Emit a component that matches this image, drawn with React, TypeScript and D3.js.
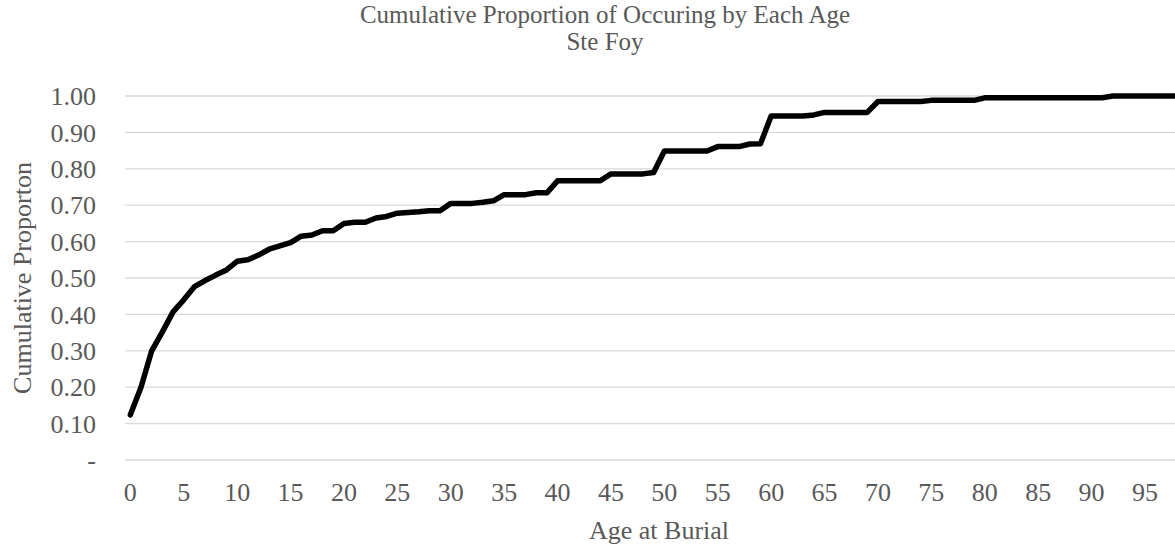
import React from "react";
import * as d3 from "d3";

const ages: number[] = d3.range(0, 100);
const cumulative: number[] = [
  0.124, 0.2, 0.3, 0.352, 0.407, 0.44, 0.476, 0.493, 0.508, 0.522,
  0.546, 0.55, 0.563, 0.579, 0.588, 0.597, 0.615, 0.618, 0.63, 0.63,
  0.65, 0.653, 0.653, 0.665, 0.669, 0.678, 0.68, 0.682, 0.685, 0.685,
  0.705, 0.705, 0.705, 0.708, 0.712, 0.729, 0.729, 0.729, 0.734, 0.734,
  0.767, 0.767, 0.767, 0.767, 0.767, 0.786, 0.786, 0.786, 0.786, 0.79,
  0.849, 0.849, 0.849, 0.849, 0.849, 0.861, 0.861, 0.861, 0.868, 0.869,
  0.945, 0.945, 0.945, 0.945, 0.948, 0.955, 0.955, 0.955, 0.955, 0.955,
  0.985, 0.985, 0.985, 0.985, 0.985, 0.988, 0.988, 0.988, 0.988, 0.988,
  0.995, 0.995, 0.995, 0.995, 0.995, 0.995, 0.995, 0.995, 0.995, 0.995,
  0.995, 0.995, 1.0, 1.0, 1.0, 1.0, 1.0, 1.0, 1.0, 1.0,
];
const yTicks: number[] = [0, 0.1, 0.2, 0.3, 0.4, 0.5, 0.6, 0.7, 0.8, 0.9, 1.0];
const xTickLabels: number[] = [0, 5, 10, 15, 20, 25, 30, 35, 40, 45, 50, 55, 60, 65, 70, 75, 80, 85, 90, 95];
const titleLines: string[] = ["Cumulative Proportion of Occuring by Each Age", "Ste Foy"];
const xTitle = "Age at Burial";
const yTitle = "Cumulative Proporton";

const W = 1175;
const H = 544;
const left = 125;
const right = 1193;
const top = 96;
const bottom = 460;
const titleCenter = 605;
const textColor = "#595959";
const font = "'Liberation Serif', 'Times New Roman', serif";
const fs = 26;

export default function App() {
  const x = d3.scaleBand<number>().domain(ages).range([left, right]);
  const y = d3.scaleLinear().domain([0, 1]).range([bottom, top]);
  const cx = (a: number) => (x(a) as number) + x.bandwidth() / 2;
  const line = d3
    .line<number>()
    .x((_, i) => cx(ages[i]))
    .y((d) => y(d));

  return (
    <div style={{ position: "fixed", left: 0, top: 0 }}>
      <svg width={W} height={H} style={{ display: "block", background: "#fff" }}>
        <rect x={0} y={0} width={W} height={H} fill="#fff" />
        {yTicks.map((t) => (
          <g key={t}>
            <line x1={left} x2={W} y1={y(t)} y2={y(t)} stroke="#d9d9d9" strokeWidth={1.3} />
            <text
              x={96}
              y={y(t)}
              dy="0.35em"
              textAnchor="end"
              fontFamily={font}
              fontSize={fs}
              fill={textColor}
            >
              {t === 0 ? "-" : t.toFixed(2)}
            </text>
          </g>
        ))}
        {xTickLabels.map((a) => (
          <text
            key={a}
            x={cx(a)}
            y={492}
            dy="0.35em"
            textAnchor="middle"
            fontFamily={font}
            fontSize={fs}
            fill={textColor}
          >
            {a}
          </text>
        ))}
        <path
          d={line(cumulative) || ""}
          fill="none"
          stroke="#000"
          strokeWidth={5.5}
          strokeLinejoin="round"
          strokeLinecap="round"
        />
        {titleLines.map((s, i) => (
          <text
            key={s}
            x={titleCenter}
            y={14 + i * 27}
            dy="0.35em"
            textAnchor="middle"
            fontFamily={font}
            fontSize={25}
            fill={textColor}
          >
            {s}
          </text>
        ))}
        <text
          x={(left + right) / 2}
          y={530}
          dy="0.35em"
          textAnchor="middle"
          fontFamily={font}
          fontSize={fs}
          fill={textColor}
        >
          {xTitle}
        </text>
        <text
          transform={`translate(22,${(top + bottom) / 2}) rotate(-90)`}
          dy="0.35em"
          textAnchor="middle"
          fontFamily={font}
          fontSize={fs}
          fill={textColor}
        >
          {yTitle}
        </text>
      </svg>
    </div>
  );
}
